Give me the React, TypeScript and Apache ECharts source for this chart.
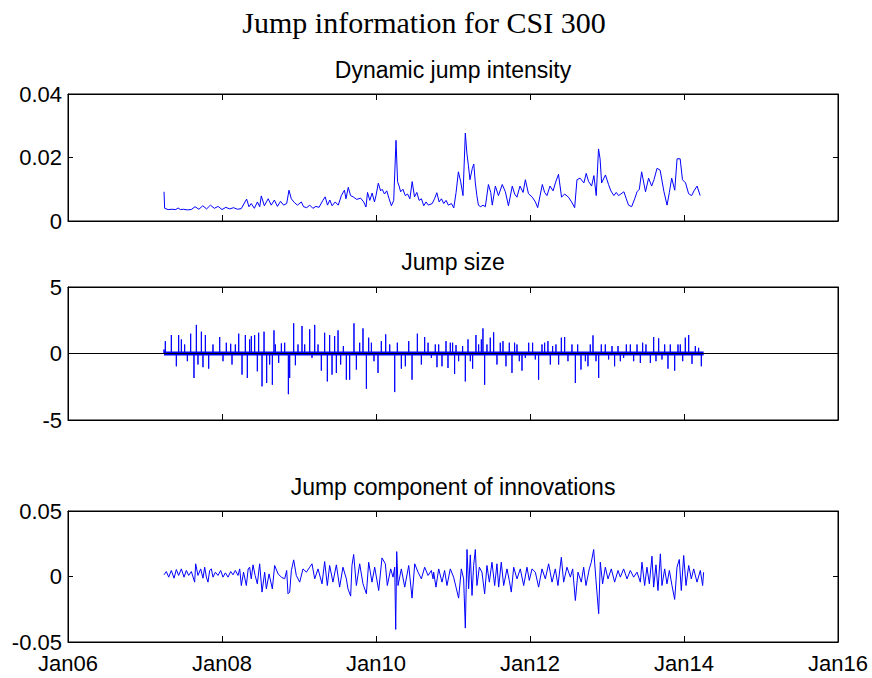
import React, { useEffect, useRef } from 'react';
import * as echarts from 'echarts';

// x positions are decimal years
const xTickYears = [2006, 2008, 2010, 2012, 2014, 2016];

const mainTitle = 'Jump information for CSI 300';
const panelTitles = ['Dynamic jump intensity', 'Jump size', 'Jump component of innovations'];

// Dynamic jump intensity
const intensity: [number, number][] = [
  [2007.247, 0.0092], [2007.255, 0.004], [2007.3, 0.0036], [2007.35, 0.0037], [2007.4, 0.0036], [2007.43, 0.0041],
  [2007.46, 0.0036], [2007.5, 0.0037], [2007.55, 0.0035], [2007.6, 0.0036], [2007.65, 0.0045], [2007.7, 0.0037],
  [2007.75, 0.0048], [2007.8, 0.0038], [2007.85, 0.005], [2007.9, 0.004], [2007.95, 0.0046], [2008.0, 0.0036],
  [2008.05, 0.0043], [2008.1, 0.0038], [2008.15, 0.0042], [2008.2, 0.0037], [2008.25, 0.0039], [2008.32, 0.0069],
  [2008.35, 0.0045], [2008.38, 0.0055], [2008.42, 0.004], [2008.46, 0.006], [2008.49, 0.0045], [2008.51, 0.0079],
  [2008.55, 0.0048], [2008.6, 0.007], [2008.64, 0.005], [2008.68, 0.0066], [2008.72, 0.0046], [2008.76, 0.0062],
  [2008.8, 0.005], [2008.84, 0.0055], [2008.87, 0.0097], [2008.9, 0.007], [2008.94, 0.0058], [2008.98, 0.005],
  [2009.03, 0.006], [2009.06, 0.0045], [2009.1, 0.0042], [2009.14, 0.005], [2009.18, 0.004], [2009.22, 0.0046],
  [2009.26, 0.0043], [2009.31, 0.0065], [2009.34, 0.0076], [2009.37, 0.005], [2009.4, 0.0066], [2009.43, 0.0048],
  [2009.47, 0.006], [2009.51, 0.005], [2009.55, 0.008], [2009.59, 0.0097], [2009.61, 0.007], [2009.64, 0.0106],
  [2009.67, 0.008], [2009.71, 0.0075], [2009.75, 0.0068], [2009.8, 0.0072], [2009.84, 0.006], [2009.87, 0.0044],
  [2009.89, 0.009], [2009.92, 0.0065], [2009.95, 0.0088], [2009.98, 0.006], [2010.0, 0.008], [2010.03, 0.0119],
  [2010.06, 0.0095], [2010.08, 0.01], [2010.11, 0.0085], [2010.14, 0.0095], [2010.17, 0.007], [2010.2, 0.0048],
  [2010.23, 0.0065], [2010.26, 0.0254], [2010.28, 0.0124], [2010.3, 0.011], [2010.32, 0.0092], [2010.35, 0.01],
  [2010.38, 0.008], [2010.41, 0.0085], [2010.44, 0.007], [2010.47, 0.0124], [2010.5, 0.0076], [2010.53, 0.009],
  [2010.56, 0.0065], [2010.59, 0.007], [2010.62, 0.0048], [2010.65, 0.006], [2010.68, 0.005], [2010.73, 0.0055],
  [2010.76, 0.007], [2010.79, 0.0089], [2010.82, 0.006], [2010.85, 0.007], [2010.88, 0.0055], [2010.91, 0.0065],
  [2010.94, 0.005], [2010.98, 0.0055], [2011.01, 0.0041], [2011.04, 0.009], [2011.07, 0.0155], [2011.1, 0.0124],
  [2011.13, 0.008], [2011.16, 0.0277], [2011.18, 0.0214], [2011.2, 0.0175], [2011.22, 0.013], [2011.25, 0.0165],
  [2011.27, 0.0179], [2011.29, 0.012], [2011.31, 0.008], [2011.33, 0.005], [2011.36, 0.0045], [2011.39, 0.005],
  [2011.42, 0.0045], [2011.46, 0.0115], [2011.49, 0.009], [2011.51, 0.005], [2011.55, 0.011], [2011.59, 0.008],
  [2011.64, 0.0115], [2011.68, 0.0092], [2011.72, 0.0048], [2011.77, 0.011], [2011.8, 0.0085], [2011.83, 0.0075],
  [2011.87, 0.011], [2011.91, 0.009], [2011.94, 0.013], [2011.98, 0.0086], [2012.03, 0.0075], [2012.07, 0.006],
  [2012.1, 0.0042], [2012.16, 0.0115], [2012.19, 0.009], [2012.22, 0.008], [2012.26, 0.011], [2012.3, 0.0095],
  [2012.33, 0.012], [2012.37, 0.0147], [2012.41, 0.0075], [2012.45, 0.0085], [2012.5, 0.0075], [2012.54, 0.006],
  [2012.58, 0.0042], [2012.61, 0.013], [2012.65, 0.0135], [2012.7, 0.012], [2012.73, 0.015], [2012.76, 0.0125],
  [2012.8, 0.011], [2012.83, 0.0143], [2012.86, 0.008], [2012.89, 0.0227], [2012.91, 0.0196], [2012.93, 0.012],
  [2012.98, 0.0145], [2013.02, 0.0115], [2013.05, 0.0095], [2013.09, 0.008], [2013.12, 0.009], [2013.15, 0.008],
  [2013.22, 0.0092], [2013.25, 0.007], [2013.28, 0.005], [2013.32, 0.0045], [2013.36, 0.007], [2013.39, 0.0092],
  [2013.42, 0.01], [2013.45, 0.0155], [2013.5, 0.0092], [2013.54, 0.0135], [2013.58, 0.011], [2013.61, 0.013],
  [2013.65, 0.0166], [2013.69, 0.016], [2013.74, 0.0092], [2013.78, 0.005], [2013.81, 0.009], [2013.84, 0.0135],
  [2013.88, 0.0097], [2013.91, 0.0196], [2013.95, 0.0196], [2013.98, 0.013], [2014.02, 0.012], [2014.06, 0.0086],
  [2014.1, 0.008], [2014.13, 0.0095], [2014.17, 0.011], [2014.21, 0.008],
];

// Jump size (each entry is one visible jump)
const jumpSize: [number, number][] = [
  [2007.247, 0.3], [2007.264, 0.93], [2007.342, 1.39], [2007.407, -0.96], [2007.437, 1.39], [2007.472, 1.06],
  [2007.515, 0.68], [2007.55, -0.58], [2007.593, 1.49], [2007.636, -1.84], [2007.667, 2.15], [2007.688, -0.83],
  [2007.732, 1.64], [2007.753, -1.03], [2007.784, 1.39], [2007.827, -1.14], [2007.883, 0.68], [2007.97, 1.24],
  [2008.013, -0.58], [2008.056, 0.81], [2008.113, 0.73], [2008.13, -0.83], [2008.173, 0.68], [2008.217, 1.49],
  [2008.26, -1.59], [2008.303, 1.39], [2008.329, -1.84], [2008.359, 1.06], [2008.381, 1.31], [2008.424, 1.39],
  [2008.459, -1.34], [2008.476, 1.56], [2008.52, -2.47], [2008.546, 1.64], [2008.58, -2.22], [2008.619, -0.83],
  [2008.654, -2.35], [2008.675, 1.74], [2008.693, 0.68], [2008.736, -0.71], [2008.771, 0.76], [2008.814, 0.81],
  [2008.862, -3.06], [2008.879, -1.84], [2008.931, 2.27], [2008.953, -0.88], [2008.987, 0.68], [2009.039, 2.07],
  [2009.074, 0.68], [2009.139, 1.82], [2009.169, -0.33], [2009.204, 2.15], [2009.247, 0.68], [2009.29, -1.29],
  [2009.333, 1.56], [2009.368, -2.1], [2009.398, 1.39], [2009.429, -1.59], [2009.463, 1.31], [2009.485, -1.46],
  [2009.507, 1.74], [2009.541, -0.83], [2009.576, 0.56], [2009.615, -1.97], [2009.658, -1.97], [2009.714, 2.27],
  [2009.745, -1.21], [2009.788, 0.81], [2009.831, 1.89], [2009.875, -2.65], [2009.905, 1.19], [2009.94, 0.81],
  [2009.974, -0.58], [2010.026, -1.46], [2010.069, 0.93], [2010.126, 1.44], [2010.178, 0.68], [2010.243, -2.9],
  [2010.277, 0.81], [2010.329, -1.14], [2010.381, -0.96], [2010.425, 0.93], [2010.468, -1.97], [2010.537, 1.49],
  [2010.589, -0.83], [2010.632, 1.24], [2010.676, 0.81], [2010.719, -0.33], [2010.77, 0.68], [2010.792, -1.03],
  [2010.814, 0.68], [2010.857, -0.96], [2010.909, 0.93], [2010.935, -1.09], [2010.965, 0.81], [2010.995, 0.81],
  [2011.021, -1.54], [2011.039, 0.63], [2011.073, -0.58], [2011.125, 0.56], [2011.16, -2.1], [2011.195, 1.06],
  [2011.225, -0.58], [2011.255, -1.14], [2011.298, 1.39], [2011.333, 0.68], [2011.368, 1.06], [2011.389, 1.89],
  [2011.411, -2.35], [2011.441, 0.68], [2011.484, 1.19], [2011.528, 1.59], [2011.571, -0.83], [2011.614, 0.81],
  [2011.649, 0.93], [2011.688, -0.96], [2011.731, 0.81], [2011.766, -1.46], [2011.8, 0.81], [2011.831, 0.68],
  [2011.861, -0.58], [2011.896, -1.29], [2011.939, -0.33], [2011.983, 0.81], [2012.034, 0.81], [2012.069, -0.45],
  [2012.112, -1.97], [2012.156, 0.68], [2012.19, 0.81], [2012.233, 0.93], [2012.264, -0.83], [2012.294, 0.56],
  [2012.337, 0.68], [2012.372, -0.83], [2012.407, 1.19], [2012.45, 1.24], [2012.493, -0.58], [2012.545, 0.68],
  [2012.589, -2.22], [2012.619, 0.68], [2012.662, -1.21], [2012.719, -0.58], [2012.753, -0.96], [2012.783, 0.68],
  [2012.818, 1.36], [2012.857, -0.58], [2012.892, -1.84], [2012.926, 0.68], [2012.978, 0.68], [2013.021, -0.45],
  [2013.065, 0.56], [2013.099, -0.96], [2013.143, 0.56], [2013.173, -0.58], [2013.216, -0.33], [2013.251, 0.68],
  [2013.303, 0.68], [2013.346, -0.58], [2013.39, 0.68], [2013.433, -0.71], [2013.463, 0.81], [2013.506, 0.68],
  [2013.563, -0.71], [2013.606, 1.24], [2013.636, -0.58], [2013.671, 1.14], [2013.714, -0.45], [2013.749, 0.68],
  [2013.792, -1.14], [2013.822, 0.68], [2013.879, -1.29], [2013.922, 0.68], [2013.952, 0.68], [2013.983, -0.58],
  [2014.017, 1.19], [2014.061, 1.39], [2014.104, -0.78], [2014.147, 0.56], [2014.19, 0.43], [2014.225, -0.96],
  [2014.255, 0.05],
];

// Jump component of innovations
const innovations: [number, number][] = [
  [2007.247, 0.0013], [2007.277, 0.0038], [2007.308, -0.0005], [2007.342, 0.0046], [2007.377, -0.0013],
  [2007.407, 0.0053], [2007.437, 0.0008], [2007.472, 0.0058], [2007.507, -0.0005], [2007.537, 0.0046],
  [2007.567, 0.0008], [2007.602, 0.0038], [2007.645, -0.0043], [2007.658, 0.0097], [2007.688, 0.0008],
  [2007.723, 0.0058], [2007.753, -0.0013], [2007.775, 0.0071], [2007.797, -0.0005], [2007.818, -0.0043],
  [2007.84, 0.0046], [2007.862, 0.0058], [2007.883, -0.0005], [2007.914, 0.0033], [2007.948, 0.0008],
  [2007.983, 0.0046], [2008.013, -0.0005], [2008.044, 0.0028], [2008.078, -0.0005], [2008.113, 0.0038],
  [2008.143, 0.0013], [2008.173, 0.0046], [2008.208, 0.0008], [2008.23, 0.0058], [2008.251, -0.0069],
  [2008.28, 0.0033], [2008.316, -0.0069], [2008.34, 0.0058], [2008.359, 0.0071], [2008.38, -0.0018],
  [2008.403, 0.0089], [2008.43, 0.0008], [2008.459, -0.0056], [2008.489, 0.0097], [2008.52, -0.0119],
  [2008.554, 0.0033], [2008.576, -0.0094], [2008.611, 0.002], [2008.654, -0.0094], [2008.684, 0.0084],
  [2008.728, 0.002], [2008.771, -0.0005], [2008.814, -0.0018], [2008.84, 0.0046], [2008.857, -0.0132],
  [2008.879, -0.0119], [2008.901, 0.0046], [2008.931, 0.0127], [2008.965, 0.0008], [2009.009, -0.0043],
  [2009.052, 0.0058], [2009.095, 0.0033], [2009.139, 0.0071], [2009.169, 0.0097], [2009.204, -0.0018],
  [2009.247, 0.0058], [2009.299, -0.0056], [2009.333, 0.0114], [2009.368, -0.0069], [2009.398, 0.0084],
  [2009.441, -0.0043], [2009.485, 0.0089], [2009.528, -0.0081], [2009.571, 0.0071], [2009.615, -0.0018],
  [2009.636, -0.0094], [2009.671, -0.015], [2009.688, 0.0084], [2009.71, 0.0168], [2009.745, -0.0069],
  [2009.788, 0.0097], [2009.831, -0.0056], [2009.875, -0.0132], [2009.905, 0.0109], [2009.948, -0.0043],
  [2009.983, 0.0071], [2010.035, -0.0107], [2010.078, 0.0142], [2010.121, 0.0097], [2010.147, -0.0069],
  [2010.191, 0.0058], [2010.221, -0.0005], [2010.243, 0.0071], [2010.256, -0.0404], [2010.269, 0.019],
  [2010.286, -0.0069], [2010.329, 0.0058], [2010.373, -0.0081], [2010.425, 0.0084], [2010.468, -0.0165],
  [2010.503, 0.0097], [2010.546, 0.0033], [2010.589, -0.0018], [2010.632, 0.0071], [2010.676, 0.0008],
  [2010.719, 0.0046], [2010.741, -0.0018], [2010.749, 0.0033], [2010.779, -0.0081], [2010.814, 0.0058],
  [2010.857, -0.0043], [2010.891, 0.0046], [2010.922, -0.0069], [2010.965, 0.0058], [2011.008, -0.0005],
  [2011.039, -0.0081], [2011.073, -0.0165], [2011.108, 0.0058], [2011.138, -0.0018], [2011.16, -0.0394],
  [2011.182, 0.0206], [2011.203, -0.0094], [2011.225, 0.0165], [2011.247, -0.0145], [2011.268, 0.0084],
  [2011.29, 0.0206], [2011.311, -0.0069], [2011.342, 0.0071], [2011.376, 0.0033], [2011.411, -0.0132],
  [2011.441, 0.0084], [2011.472, -0.0043], [2011.506, 0.0109], [2011.541, -0.0069], [2011.571, 0.0097],
  [2011.593, -0.0081], [2011.627, 0.0109], [2011.658, -0.0069], [2011.701, 0.0058], [2011.731, -0.003],
  [2011.757, -0.0119], [2011.788, 0.0071], [2011.831, -0.0018], [2011.874, 0.0058], [2011.918, -0.0069],
  [2011.961, 0.0071], [2011.991, -0.003], [2012.026, 0.0058], [2012.069, 0.0033], [2012.112, -0.0081],
  [2012.156, 0.0058], [2012.199, -0.0018], [2012.242, 0.0097], [2012.286, -0.0043], [2012.329, 0.0058],
  [2012.363, -0.0069], [2012.407, 0.0147], [2012.437, -0.0043], [2012.48, 0.0071], [2012.524, -0.0005],
  [2012.554, 0.0058], [2012.589, -0.0183], [2012.623, 0.0033], [2012.666, -0.0043], [2012.697, 0.0071],
  [2012.727, -0.0069], [2012.77, 0.0058], [2012.796, 0.0109], [2012.827, 0.0206], [2012.857, -0.003],
  [2012.892, -0.0284], [2012.913, 0.0109], [2012.943, -0.0056], [2012.978, 0.0071], [2013.013, -0.0018],
  [2013.056, 0.0058], [2013.099, -0.0043], [2013.143, 0.0046], [2013.173, -0.0005], [2013.216, 0.0058],
  [2013.26, -0.0018], [2013.303, 0.0046], [2013.346, -0.0005], [2013.39, 0.0033], [2013.433, -0.0043],
  [2013.454, 0.0109], [2013.489, -0.0069], [2013.519, 0.0071], [2013.55, -0.0056], [2013.584, 0.0155],
  [2013.606, -0.0081], [2013.636, 0.0089], [2013.662, -0.0107], [2013.693, 0.0173], [2013.714, -0.0069],
  [2013.749, 0.0058], [2013.779, -0.0056], [2013.81, 0.0046], [2013.844, -0.0069], [2013.879, -0.0175],
  [2013.909, 0.0071], [2013.939, 0.013], [2013.965, -0.0107], [2013.996, 0.016], [2014.026, -0.0069],
  [2014.061, 0.0084], [2014.095, -0.0018], [2014.126, 0.0058], [2014.169, -0.0043], [2014.212, 0.0046],
  [2014.242, -0.0069], [2014.255, 0.0033],
];

// y axis ranges per panel
const yRanges = [
  { min: 0, max: 0.04, interval: 0.02 },
  { min: -5, max: 5, interval: 5 },
  { min: -0.05, max: 0.05, interval: 0.05 },
];

const SANS = '"Liberation Sans", Arial, Helvetica, sans-serif';
const SERIF = '"Liberation Serif", "Times New Roman", serif';
const BLUE = '#0000ff';

export default function App() {
  const ref = useRef<HTMLDivElement>(null);

  useEffect(() => {
    const chart = echarts.init(ref.current!, null, { renderer: 'svg' });

    const grids = [
      { left: 68, top: 94, width: 770, height: 127 },
      { left: 68, top: 287, width: 770, height: 133 },
      { left: 68, top: 511, width: 770, height: 131 },
    ].map((g) => ({ ...g, show: true, borderColor: '#000', borderWidth: 1, backgroundColor: '#fff' }));

    const fmtY = (v: number) => {
      if (Math.abs(v) < 1e-12) return '0';
      return Math.abs(v) >= 1 ? String(Math.round(v)) : v.toFixed(2);
    };

    const xAxes: any[] = [];
    const yAxes: any[] = [];
    for (let i = 0; i < 3; i++) {
      for (const pos of ['bottom', 'top']) {
        xAxes.push({
          type: 'value',
          gridIndex: i,
          position: pos,
          min: xTickYears[0],
          max: xTickYears[xTickYears.length - 1],
          interval: 2,
          axisLine: { show: true, onZero: false, lineStyle: { color: '#000', width: 1 } },
          axisTick: { show: true, inside: true, length: 6, lineStyle: { color: '#000', width: 1 } },
          axisLabel: {
            show: pos === 'bottom' && i === 2,
            showMinLabel: true,
            showMaxLabel: true,
            formatter: (v: number) => 'Jan' + String(Math.round(v)).slice(2),
            color: '#000',
            fontSize: 22,
            fontFamily: SANS,
            lineHeight: 20,
            margin: 11,
          },
          splitLine: { show: false },
        });
      }
      for (const pos of ['left', 'right']) {
        yAxes.push({
          type: 'value',
          gridIndex: i,
          position: pos,
          ...yRanges[i],
          axisLine: { show: true, onZero: false, lineStyle: { color: '#000', width: 1 } },
          axisTick: { show: true, inside: true, length: 5, lineStyle: { color: '#000', width: 1 } },
          axisLabel: {
            show: pos === 'left',
            showMinLabel: true,
            showMaxLabel: true,
            formatter: fmtY,
            color: '#000',
            fontSize: 22,
            fontFamily: SANS,
            lineHeight: 20,
            margin: 6,
          },
          splitLine: { show: false },
        });
      }
    }
    // axes index: grid i -> x bottom 2i, x top 2i+1; y left 2i, y right 2i+1

    const stems = jumpSize.flatMap(([t, v]) => [[t, 0], [t, v], [t, 0]]);
    const band = [[jumpSize[0][0], 0], [jumpSize[jumpSize.length - 1][0], 0]];

    const option: any = {
      animation: false,
      backgroundColor: '#fff',
      grid: grids,
      xAxis: xAxes,
      yAxis: yAxes,
      graphic: [
        { type: 'text', x: 424, y: 22, style: { text: mainTitle, font: `30px ${SERIF}`, fill: '#000', align: 'center', verticalAlign: 'middle', textAlign: 'center', textVerticalAlign: 'middle' } },
        ...panelTitles.map((t, i) => ({
          type: 'text',
          x: 453,
          y: [70, 262, 487][i],
          style: { text: t, font: `23px ${SANS}`, fill: '#000', align: 'center', verticalAlign: 'middle', textAlign: 'center', textVerticalAlign: 'middle' },
        })),
      ],
      series: [
        {
          type: 'line',
          xAxisIndex: 0,
          yAxisIndex: 0,
          data: intensity,
          showSymbol: false,
          symbol: 'none',
          lineStyle: { color: BLUE, width: 1 },
          z: 3,
        },
        {
          type: 'line',
          xAxisIndex: 2,
          yAxisIndex: 2,
          data: stems,
          showSymbol: false,
          symbol: 'none',
          lineStyle: { color: BLUE, width: 1 },
          z: 3,
        },
        {
          type: 'line',
          xAxisIndex: 2,
          yAxisIndex: 2,
          data: band,
          showSymbol: false,
          symbol: 'none',
          lineStyle: { color: BLUE, width: 4 },
          z: 4,
          markLine: {
            silent: true,
            symbol: 'none',
            label: { show: false },
            lineStyle: { color: '#000', width: 1, type: 'solid' },
            data: [{ yAxis: 0 }],
          },
        },
        {
          type: 'line',
          xAxisIndex: 4,
          yAxisIndex: 4,
          data: innovations,
          showSymbol: false,
          symbol: 'none',
          lineStyle: { color: BLUE, width: 1 },
          z: 3,
        },
      ],
    };

    chart.setOption(option);
    return () => chart.dispose();
  }, []);

  return (
    <div
      ref={ref}
      style={{ position: 'absolute', left: 0, top: 0, width: 872, height: 678, background: '#fff' }}
    />
  );
}
